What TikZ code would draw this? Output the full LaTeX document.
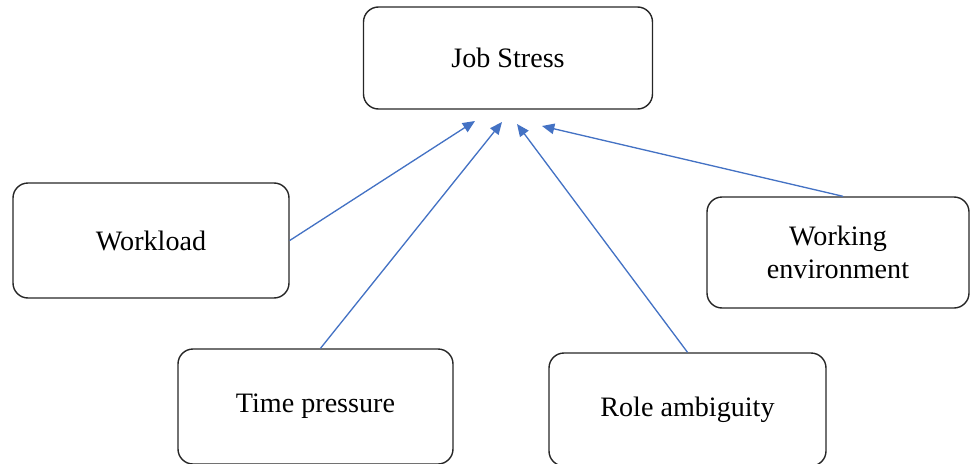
\documentclass[tikz,border=0pt]{standalone}
\usepackage{fontspec}
\setmainfont{Liberation Serif}
\usepackage{xcolor}
\usetikzlibrary{arrows.meta}

\definecolor{arrblue}{RGB}{68,114,196}

\begin{document}
\begin{tikzpicture}[
  box/.style={draw=black!85, line width=0.8pt, rounded corners=0.3cm, minimum width=#1, align=center, font=\fontsize{16}{19}\selectfont},
  arr/.style={-{Triangle[length=7pt,width=6pt]}, line width=0.75pt, draw=arrblue, fill=arrblue}
]
\useasboundingbox (0,0) rectangle (19.42,-9.26);

% Outcome
\node[box=5.78cm, minimum height=2.04cm] (js) at (10.16,-1.16) {Job Stress};

% Factors
\node[box=5.52cm, minimum height=2.30cm] (wl) at (3.02,-4.81) {Workload};
\node[box=5.24cm, minimum height=2.22cm] (we) at (16.76,-5.05) {Working\\environment};
\node[box=5.50cm, minimum height=2.30cm] (tp) at (6.31,-8.13) {Time pressure};
\node[box=5.54cm, minimum height=2.26cm] (ra) at (13.75,-8.19) {Role ambiguity};

% Arrow tips below Job Stress
\coordinate (t1) at (9.50,-2.42);
\coordinate (t2) at (10.04,-2.44);
\coordinate (t3) at (10.34,-2.48);
\coordinate (t4) at (10.84,-2.52);

\draw[arr] (wl.east) -- (t1);
\draw[arr] ([xshift=0.1cm]tp.north) -- (t2);
\draw[arr] (ra.north) -- (t3);
\draw[arr] ([xshift=0.1cm]we.north) -- (t4);
\end{tikzpicture}
\end{document}
